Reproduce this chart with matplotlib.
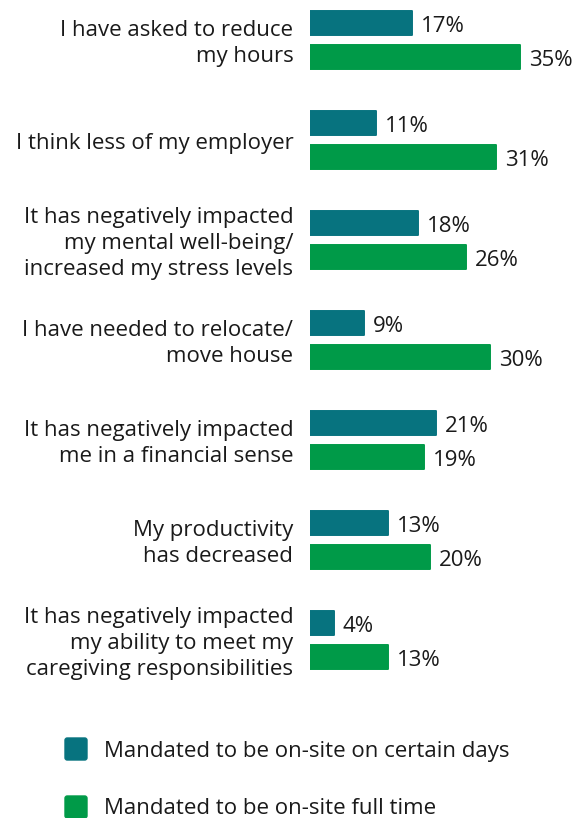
import matplotlib.pyplot as plt
from matplotlib.patches import FancyBboxPatch

plt.rcParams['font.family'] = ['Open Sans', 'DejaVu Sans']

categories = ['I have asked to reduce\nmy hours',
              'I think less of my employer',
              'It has negatively impacted\nmy mental well-being/\nincreased my stress levels',
              'I have needed to relocate/\nmove house',
              'It has negatively impacted\nme in a financial sense',
              'My productivity\nhas decreased',
              'It has negatively impacted\nmy ability to meet my\ncaregiving responsibilities']
certain_days = [17, 11, 18, 9, 21, 13, 4]
full_time = [35, 31, 26, 30, 19, 20, 13]
series_names = ['Mandated to be on-site on certain days', 'Mandated to be on-site full time']

teal = '#07737F'
green = '#009A48'
txt = '#1a1a1a'
fs = 16

W, H = 576, 818
fig = plt.figure(figsize=(W / 100, H / 100), dpi=100)
# axes: percent horizontally, pixel rows vertically
ax = fig.add_axes([310 / W, 0, 1 - 310 / W, 1])
ax.set_xlim(0, 44.4)
ax.set_ylim(H, 0)
ax.axis('off')

centers = [40 + 100 * i for i in range(len(categories))]
bh = 24

for i, c in enumerate(centers):
    for val, yc, col in [(certain_days[i], c - 17, teal), (full_time[i], c + 17, green)]:
        b = ax.barh(yc, val, height=bh, color=col, edgecolor=col, linewidth=1.4)
        b[0].set_joinstyle('round')
        ax.annotate(f'{val}%', (val, yc), xytext=(6.5, -2.5), textcoords='offset points',
                    va='center', ha='left', fontsize=fs, color=txt)
    ax.annotate(categories[i], (0, c), xytext=(-12, -2.5), textcoords='offset points',
                va='center', ha='right', fontsize=fs, color=txt,
                linespacing=1.34, annotation_clip=False)

# legend
for j, (name, col) in enumerate(zip(series_names, [teal, green])):
    yc = 749 + 58 * j
    sq = FancyBboxPatch((65 / W, 1 - (yc + 11) / H), 22 / W, 22 / H,
                        boxstyle='round,pad=0,rounding_size=0.004',
                        transform=fig.transFigure, facecolor=col, edgecolor=col,
                        mutation_aspect=W / H)
    fig.patches.append(sq)
    fig.text(104 / W, 1 - (yc + 2) / H, name, va='center', ha='left', fontsize=fs, color=txt)

fig.savefig('out.png', dpi=100)
